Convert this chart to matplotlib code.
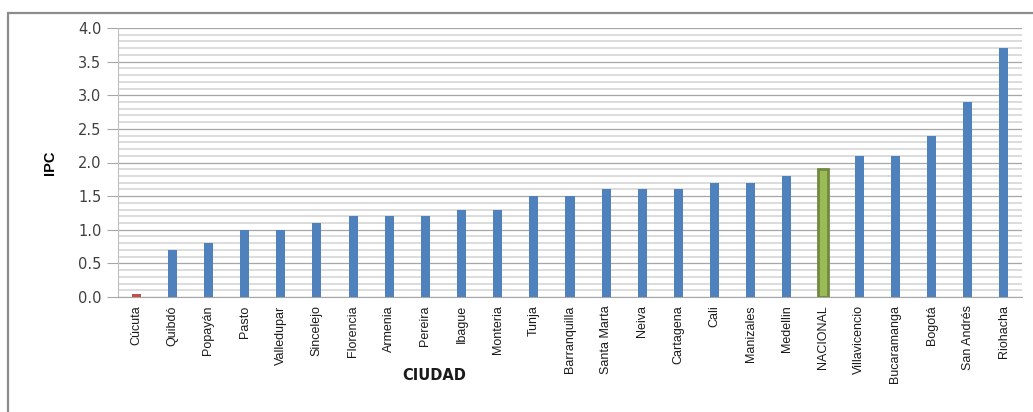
import matplotlib
matplotlib.use("Agg")
import matplotlib.pyplot as plt
from matplotlib.patches import Rectangle
from matplotlib.ticker import MultipleLocator

# IPC by city
ciudades = ["Cúcuta", "Quibdó", "Popayán", "Pasto", "Valledupar", "Sincelejo",
            "Florencia", "Armenia", "Pereira", "Ibague", "Monteria", "Tunja",
            "Barranquilla", "Santa Marta", "Neiva", "Cartagena", "Cali",
            "Manizales", "Medellin", "NACIONAL", "Villavicencio", "Bucaramanga",
            "Bogotá", "San Andrés", "Riohacha"]
ipc = [0.04, 0.7, 0.8, 1.0, 1.0, 1.1, 1.2, 1.2, 1.2, 1.3, 1.3, 1.5, 1.5,
       1.6, 1.6, 1.6, 1.7, 1.7, 1.8, 1.9, 2.1, 2.1, 2.4, 2.9, 3.7]
y_ticks = [0.0, 0.5, 1.0, 1.5, 2.0, 2.5, 3.0, 3.5, 4.0]

BLUE = "#4F81BD"
RED = "#C0504D"
GREEN = "#9BBB59"
GREEN_EDGE = "#71893F"

# no condensed face installed; Liberation Sans is narrower than DejaVu
LAB_FAMILY = "Liberation Sans"

fig = plt.figure(figsize=(10.33, 4.12), dpi=100)
ax = fig.add_axes([118 / 1033, 1 - 297 / 412, 904 / 1033, 269 / 412])

# outer frame of the chart object
fig.patches.append(Rectangle((8 / 1033, -0.1), 1.2, 1.1 - 13 / 412,
                             transform=fig.transFigure, fill=False,
                             edgecolor="#8C8C8C", linewidth=1.6))

x = list(range(len(ciudades)))
colors = []
for c in ciudades:
    if c == "Cúcuta":
        colors.append(RED)
    elif c == "NACIONAL":
        colors.append(GREEN)
    else:
        colors.append(BLUE)

bars = ax.bar(x, ipc, width=0.25, color=colors, zorder=3)
nac = ciudades.index("NACIONAL")
bars[nac].set_edgecolor(GREEN_EDGE)
bars[nac].set_linewidth(2)
bars[nac].set_width(0.28)
bars[nac].set_x(nac - 0.14)

ax.set_xlim(-0.5, len(ciudades) - 0.5)
ax.set_ylim(0, 4.0)
ax.set_yticks(y_ticks)
ax.set_yticklabels([f"{v:.1f}" for v in y_ticks])
ax.yaxis.set_minor_locator(MultipleLocator(0.1))

ax.grid(axis="y", which="major", color="#A6A6A6", linewidth=0.9, zorder=1)
ax.grid(axis="y", which="minor", color="#DCDCDC", linewidth=1.4, zorder=0)
ax.set_axisbelow(True)

for side in ["top", "right"]:
    ax.spines[side].set_visible(False)
ax.spines["left"].set_color("#BFBFBF")
ax.spines["bottom"].set_color("#A6A6A6")

ax.tick_params(axis="y", which="major", length=8, color="#A6A6A6",
               labelsize=10.5, labelcolor="#404040", pad=4)
ax.tick_params(axis="y", which="minor", length=0)
ax.tick_params(axis="x", length=0, pad=6)

ax.set_xticks(x)
ax.set_xticklabels(ciudades, rotation=90, color="#1A1A1A",
                   family=LAB_FAMILY, fontsize=9)

fig.text(50 / 1033, 1 - 163 / 412, "IPC", rotation=90, ha="center",
         va="center", fontweight="bold", family=LAB_FAMILY, fontsize=10.5)
fig.text(434 / 1033, 1 - 375 / 412, "CIUDAD", ha="center", va="center",
         fontweight="bold", fontsize=10.5, color="#1A1A1A")

fig.savefig("out.png", dpi=100)
